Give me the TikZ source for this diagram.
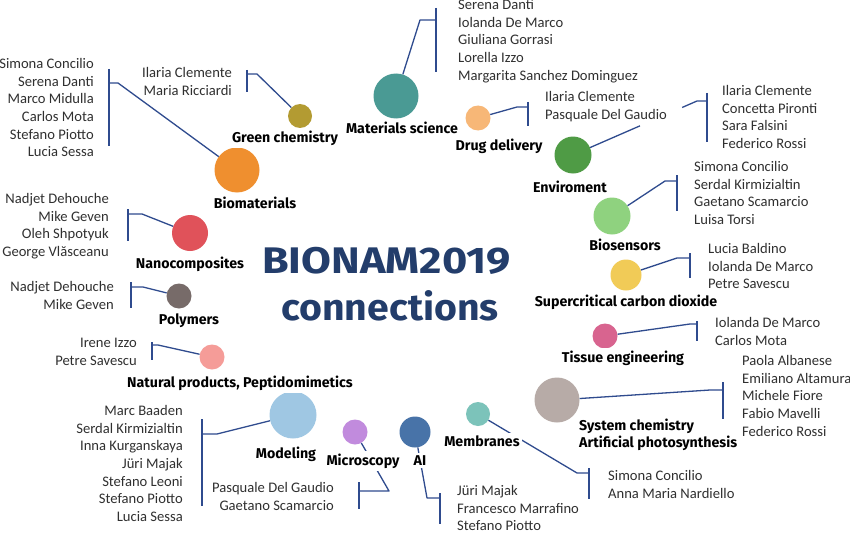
\documentclass[tikz,border=0pt]{standalone}
\usepackage{fontspec}
\setmainfont{Carlito}
\newfontfamily\firabold{Fira Sans}
\usetikzlibrary{calc}
\definecolor{linkblue}{HTML}{2F4B8E}
\definecolor{namegray}{HTML}{303030}
\definecolor{navy}{HTML}{233D6B}
\definecolor{cms}{HTML}{4A9A94}
\definecolor{cgc}{HTML}{B39B32}
\definecolor{cbm}{HTML}{EF8F2F}
\definecolor{cnc}{HTML}{E0525A}
\definecolor{cpol}{HTML}{776B69}
\definecolor{cnp}{HTML}{F59C98}
\definecolor{cmod}{HTML}{9FC7E3}
\definecolor{cmic}{HTML}{C18BDD}
\definecolor{cai}{HTML}{4873A8}
\definecolor{cmem}{HTML}{7CC3BA}
\definecolor{csys}{HTML}{B7ABA7}
\definecolor{cte}{HTML}{D8648F}
\definecolor{csc}{HTML}{F1CB57}
\definecolor{cbs}{HTML}{8FD27F}
\definecolor{cenv}{HTML}{4F9B45}
\definecolor{cdd}{HTML}{F7B777}
\tikzset{
  blob/.style 2 args={circle, fill=#1, draw=none, inner sep=0pt, minimum size=#2},
  lab/.style={font=\firabold\bfseries\fontsize{14.2}{16}\selectfont, text=black, fill=white, inner sep=2.5pt, anchor=base},
  namesL/.style={font=\fontsize{14.6}{17.6}\selectfont, text=namegray, align=left, inner sep=0pt, anchor=north west},
  namesR/.style={font=\fontsize{14.6}{17.6}\selectfont, text=namegray, align=right, inner sep=0pt, anchor=north east},
  link/.style={draw=linkblue, line width=1.3pt, line join=round},
  titletxt/.style={font=\firabold\bfseries\fontsize{37}{40}\selectfont, text=navy, inner sep=0pt, anchor=base},
}
\begin{document}
\begin{tikzpicture}[x=1pt,y=-1pt]
\useasboundingbox (0,0) rectangle (850,532);
\fill[white] (0,0) rectangle (850,532);

% title
\node[titletxt] (t1) at (386.5,273) {\scalebox{1.17}[1]{BIONAM2019}};
\node[titletxt] (t2) at (390,320) {\scalebox{1.06}[1]{connections}};

% circles
\node[blob={cms}{45pt}] (ms) at (396,96) {};
\node[blob={cgc}{24pt}] (gc) at (300,116) {};
\node[blob={cbm}{45pt}] (bm) at (237,170) {};
\node[blob={cnc}{36pt}] (nc) at (190,233) {};
\node[blob={cpol}{25pt}] (pol) at (179,296) {};
\node[blob={cnp}{25pt}] (np) at (212,357) {};
\node[blob={cmod}{47pt}] (mod) at (293,415) {};
\node[blob={cmic}{25pt}] (mic) at (355,432) {};
\node[blob={cai}{31pt}] (ai) at (415,432) {};
\node[blob={cmem}{24pt}] (mem) at (478,414) {};
\node[blob={csys}{45pt}] (sys) at (557,400) {};
\node[blob={cte}{25pt}] (te) at (605,336) {};
\node[blob={csc}{31pt}] (sc) at (626,275) {};
\node[blob={cbs}{37pt}] (bs) at (612,216) {};
\node[blob={cenv}{37pt}] (env) at (573,155) {};
\node[blob={cdd}{25pt}] (dd) at (478,118) {};

% elbow and bracket coordinates
\coordinate (bmE) at (118,83);  \coordinate (bmT) at (109,83);  \coordinate (bmA) at (109,69);  \coordinate (bmB) at (109,146);
\coordinate (gcE) at (257,74);  \coordinate (gcT) at (247,74);  \coordinate (gcA) at (247,70);  \coordinate (gcB) at (247,92);
\coordinate (msE) at (420,20);  \coordinate (msT) at (436,20);  \coordinate (msA) at (436,8);   \coordinate (msB) at (436,72);
\coordinate (ddE) at (517,107); \coordinate (ddT) at (528,107); \coordinate (ddA) at (528,102); \coordinate (ddB) at (528,126);
\coordinate (envE) at (697,101); \coordinate (envT) at (707,101); \coordinate (envA) at (707,93); \coordinate (envB) at (707,142);
\coordinate (bsE) at (665,181); \coordinate (bsT) at (677,181); \coordinate (bsA) at (677,175); \coordinate (bsB) at (677,211);
\coordinate (scE) at (677,258); \coordinate (scT) at (690,258); \coordinate (scA) at (690,253); \coordinate (scB) at (690,278);
\coordinate (teE) at (690,324); \coordinate (teT) at (697,324); \coordinate (teA) at (697,321); \coordinate (teB) at (697,341);
\coordinate (sysE) at (710,390); \coordinate (sysT) at (723,390); \coordinate (sysA) at (723,382); \coordinate (sysB) at (723,427);
\coordinate (memE) at (577,473); \coordinate (memT) at (589,473); \coordinate (memA) at (589,468); \coordinate (memB) at (589,499);
\coordinate (aiE) at (427,498); \coordinate (aiT) at (440,498); \coordinate (aiA) at (440,493); \coordinate (aiB) at (440,524);
\coordinate (micE) at (389,491); \coordinate (micT) at (359,491); \coordinate (micA) at (359,482); \coordinate (micB) at (359,509);
\coordinate (modE) at (217,434); \coordinate (modT) at (202,434); \coordinate (modA) at (202,419); \coordinate (modB) at (202,506);
\coordinate (npE) at (158,345); \coordinate (npT) at (152,345); \coordinate (npA) at (152,342); \coordinate (npB) at (152,360);
\coordinate (polE) at (143,287); \coordinate (polT) at (131,287); \coordinate (polA) at (131,282); \coordinate (polB) at (131,308);
\coordinate (ncE) at (142,214); \coordinate (ncT) at (128,214); \coordinate (ncA) at (128,209); \coordinate (ncB) at (128,241);

% connectors
\foreach \k in {bm,gc,ms,dd,bs,sc,te,sys,mem,ai,mic,mod,np,pol,nc}{
  \draw[link] (\k) -- (\k E) -- (\k T);
  \draw[link] (\k A) -- (\k B);
}
\draw[link] (env) -- ($(env.center)!0.54!(envE)$);
\draw[link] ($(env.center)!0.88!(envE)$) -- (envE) -- (envT);
\draw[link] (envA) -- (envB);

% labels
\node[lab] (lms) at (402,133) {Materials science};
\node[lab] (lgc) at (285,142) {Green chemistry};
\node[lab] (lbm) at (255,208) {Biomaterials};
\node[lab] (lnc) at (190,268) {Nanocomposites};
\node[lab] (lpol) at (189,324) {Polymers};
\node[lab] (lnp) at (240,387) {Natural products, Peptidomimetics};
\node[lab] (lmod) at (286,458) {Modeling};
\node[lab] (lmic) at (363,465) {Microscopy};
\node[lab] (lai) at (420,465) {AI};
\node[lab] (lmem) at (482,446) {Membranes};
\node[lab, anchor=base west, align=left, inner sep=0pt] (lsys) at (579,447) {System chemistry\\[0.5pt]Artificial photosynthesis};
\node[lab] (lte) at (623,362) {Tissue engineering};
\node[lab] (lsc) at (626,306) {Supercritical carbon dioxide};
\node[lab] (lbs) at (625,250) {Biosensors};
\node[lab] (lenv) at (570,192) {Enviroment};
\node[lab] (ldd) at (499,150) {Drug delivery};

% name lists
\node[namesR] (nbm) at (94,56.2) {\strut Simona Concilio\\Serena Danti\\Marco Midulla\\Carlos Mota\\Stefano Piotto\\Lucia Sessa};
\node[namesR] (ngc) at (232,65.2) {\strut Ilaria Clemente\\Maria Ricciardi};
\node[namesL] (nms) at (458,-2.8) {\strut Serena Danti\\Iolanda De Marco\\Giuliana Gorrasi\\Lorella Izzo\\Margarita Sanchez Dominguez};
\node[namesL] (ndd) at (545,89.2) {\strut Ilaria Clemente\\Pasquale Del Gaudio};
\node[namesL] (nenv) at (722,83.2) {\strut Ilaria Clemente\\Concetta Pironti\\Sara Falsini\\Federico Rossi};
\node[namesL] (nbs) at (694,159.2) {\strut Simona Concilio\\Serdal Kirmizialtin\\Gaetano Scamarcio\\Luisa Torsi};
\node[namesL] (nsc) at (708,241.2) {\strut Lucia Baldino\\Iolanda De Marco\\Petre Savescu};
\node[namesL] (nte) at (715,315.2) {\strut Iolanda De Marco\\Carlos Mota};
\node[namesL] (nsys) at (742,353.2) {\strut Paola Albanese\\Emiliano Altamura\\Michele Fiore\\Fabio Mavelli\\Federico Rossi};
\node[namesL] (nmem) at (608,468.2) {\strut Simona Concilio\\Anna Maria Nardiello};
\node[namesL] (nai) at (457,483.2) {\strut Jüri Majak\\Francesco Marrafino\\Stefano Piotto};
\node[namesR] (nmic) at (334,480.2) {\strut Pasquale Del Gaudio\\Gaetano Scamarcio};
\node[namesR] (nmod) at (183,403.2) {\strut Marc Baaden\\Serdal Kirmizialtin\\Inna Kurganskaya\\Jüri Majak\\Stefano Leoni\\Stefano Piotto\\Lucia Sessa};
\node[namesR] (nnp) at (137,335.2) {\strut Irene Izzo\\Petre Savescu};
\node[namesR] (npol) at (114,279.2) {\strut Nadjet Dehouche\\Mike Geven};
\node[namesR] (nnc) at (109,191.2) {\strut Nadjet Dehouche\\Mike Geven\\Oleh Shpotyuk\\George Vlăsceanu};
\end{tikzpicture}
\end{document}
